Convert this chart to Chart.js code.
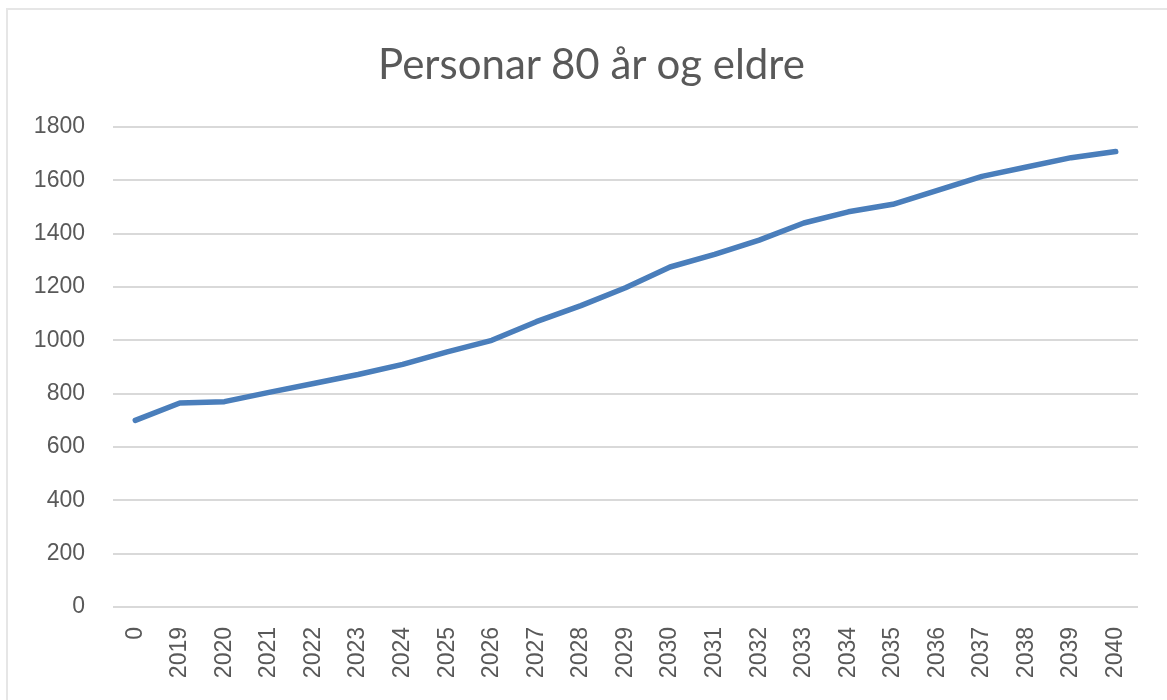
<!DOCTYPE html>
<html>
<head>
<meta charset="utf-8">
<script src="https://cdn.jsdelivr.net/npm/chart.js@4.4.1/dist/chart.umd.min.js"></script>
<style>
  html, body { margin: 0; padding: 0; background: #fff; }
  #wrap { position: relative; width: 1167px; height: 700px; overflow: hidden; }
  /* light frame seen on the top and left edge */
  #frame { position: absolute; left: 6px; top: 8px; width: 1200px; height: 760px;
           border-left: 2px solid #e6e6e6; border-top: 2px solid #e6e6e6; }
  canvas { position: absolute; left: 0; top: 0; }
  #title { position: absolute; left: 0; top: 38px; width: 1183px; text-align: center;
           font-family: Lato, "Open Sans", sans-serif; font-size: 42px; color: #595959;
           line-height: 50px; }
</style>
</head>
<body>
<div id="wrap">
  <div id="frame"></div>
  <canvas id="chart" width="1167" height="700"></canvas>
  <div id="title">Personar 80 år og eldre</div>
</div>
<script>
'use strict';

/* ── Data ── */
const labels = ['0', '2019', '2020', '2021', '2022', '2023', '2024', '2025', '2026', '2027', '2028',
                '2029', '2030', '2031', '2032', '2033', '2034', '2035', '2036', '2037', '2038',
                '2039', '2040'];
const personar80 = [700, 765, 770, 805, 838, 872, 910, 957, 1000, 1070, 1130,
                    1197, 1275, 1322, 1376, 1440, 1482, 1510, 1562, 1615, 1650,
                    1685, 1708];
const yMax = 1800;
const yStep = 200;

const TEXT = '#595959';
const GRID = '#d9d9d9';
const TICK_FONT = { family: '"Liberation Sans", Arial, sans-serif', size: 23 };

new Chart(document.getElementById('chart'), {
  type: 'line',
  data: {
    labels: labels,
    datasets: [{
      label: 'Personar 80 år og eldre',
      data: personar80,
      borderColor: '#4a7ebb',
      borderWidth: 5.5,
      pointRadius: 0,
      tension: 0,
      borderCapStyle: 'round',
      borderJoinStyle: 'round'
    }]
  },
  options: {
    responsive: false,
    animation: false,
    // title is the html div above, so room for it is kept here
    layout: { padding: { left: 0, right: 29, top: 127, bottom: 0 } },
    plugins: {
      legend: { display: false },
      tooltip: { enabled: false },
      title: { display: false }
    },
    scales: {
      x: {
        offset: true,
        grid: { display: false, drawTicks: false },
        border: { display: false },
        ticks: {
          color: TEXT,
          font: TICK_FONT,
          minRotation: 90,
          maxRotation: 90,
          autoSkip: false,
          padding: 20
        },
        afterFit(scale) { scale.height = 93; }
      },
      y: {
        min: 0,
        max: yMax,
        grid: { color: GRID, lineWidth: 2, drawTicks: false },
        border: { display: false },
        ticks: {
          stepSize: yStep,
          color: TEXT,
          font: TICK_FONT,
          padding: 28,
          callback: v => String(v)
        },
        afterFit(scale) { scale.width = 113; }
      }
    }
  }
});
</script>
</body>
</html>
